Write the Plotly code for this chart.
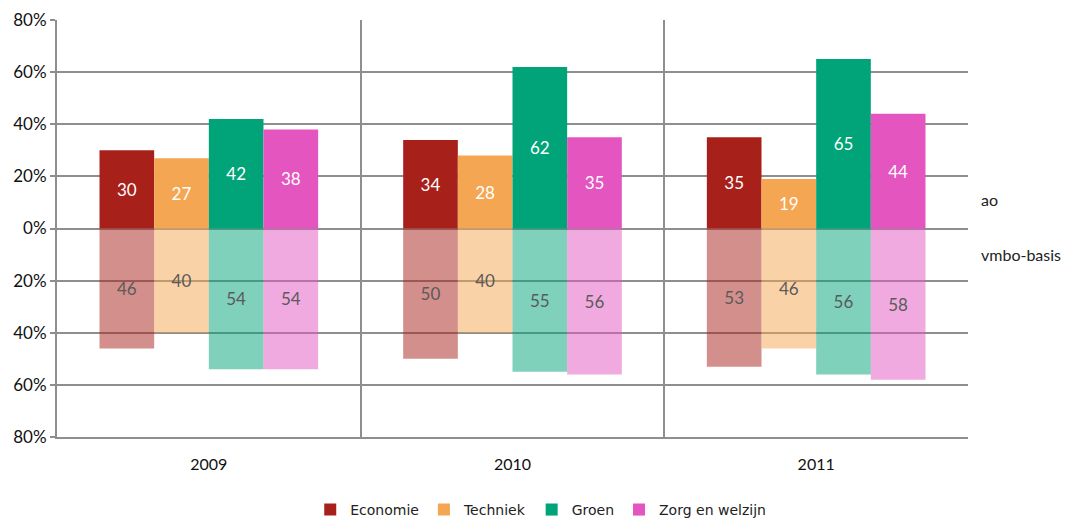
import plotly.graph_objects as go

years = ["2009", "2010", "2011"]
series = ["Economie", "Techniek", "Groen", "Zorg en welzijn"]

# ao (positive side)
ao = {
    "Economie": [30, 34, 35],
    "Techniek": [27, 28, 19],
    "Groen": [42, 62, 65],
    "Zorg en welzijn": [38, 35, 44],
}
# vmbo-basis (drawn downwards)
vmbo = {
    "Economie": [46, 50, 53],
    "Techniek": [40, 40, 46],
    "Groen": [54, 55, 56],
    "Zorg en welzijn": [54, 56, 58],
}

tick_vals = [-80, -60, -40, -20, 0, 20, 40, 60, 80]
tick_text = ["80%", "60%", "40%", "20%", "0%", "20%", "40%", "60%", "80%"]

COLORS = {
    "Economie": (168, 32, 26),
    "Techniek": (245, 166, 82),
    "Groen": (0, 164, 120),
    "Zorg en welzijn": (228, 85, 192),
}
FONT = "Lato"
GRID = "#8e8e8e"

fig = go.Figure()
for name in series:
    r, g, b = COLORS[name]
    fig.add_trace(go.Bar(
        x=years, y=ao[name], name=name, offsetgroup=name, legendgroup=name,
        marker=dict(color=f"rgb({r},{g},{b})", line=dict(width=0)),
        text=ao[name], textposition="inside", insidetextanchor="middle",
        textfont=dict(color="white", size=17, family=FONT),
        textangle=0, hoverinfo="skip",
    ))
for name in series:
    r, g, b = COLORS[name]
    fig.add_trace(go.Bar(
        x=years, y=[-v for v in vmbo[name]], name=name, offsetgroup=name,
        legendgroup=name, showlegend=False,
        marker=dict(color=f"rgba({r},{g},{b},0.5)", line=dict(width=0)),
        text=vmbo[name], textposition="inside", insidetextanchor="middle",
        textfont=dict(color="#5a5a5a", size=17, family=FONT),
        textangle=0, hoverinfo="skip",
    ))

# page body has an 8px default margin, so the figure is shrunk to fit
fig.update_layout(
    width=1069, height=513,
    margin=dict(l=49, r=109, t=12, b=84, autoexpand=False),
    paper_bgcolor="white", plot_bgcolor="white",
    barmode="group", bargap=0.28, bargroupgap=0,
    uniformtext=dict(mode="show", minsize=10),
    font=dict(family=FONT, color="#222222"),
    legend=dict(
        orientation="h", x=0.531, xanchor="center", y=-0.175, yanchor="middle",
        font=dict(family="DejaVu Sans", size=14, color="#222222"),
        itemwidth=30, traceorder="normal",
    ),
    annotations=[
        dict(text="ao", xref="paper", yref="y", x=1.012, y=11, xanchor="left",
             showarrow=False, font=dict(size=16, color="#222222", family=FONT)),
        dict(text="vmbo-basis", xref="paper", yref="y", x=1.012, y=-10, xanchor="left",
             showarrow=False, font=dict(size=16, color="#222222", family=FONT)),
    ],
)
fig.update_yaxes(
    range=[-80, 80], tickvals=tick_vals, ticktext=tick_text, automargin=False,
    showgrid=True, gridcolor=GRID, gridwidth=2,
    zeroline=True, zerolinecolor=GRID, zerolinewidth=2,
    showline=True, linecolor=GRID, linewidth=2,
    ticks="outside", ticklen=5, tickcolor=GRID, tickwidth=2,
    tickfont=dict(size=17, color="#111111", family=FONT),
)
fig.update_xaxes(
    tickson="boundaries", showgrid=True, gridcolor=GRID, gridwidth=2,
    showline=True, linecolor=GRID, linewidth=2, ticks="", automargin=False,
    ticklabelstandoff=12,
    tickfont=dict(size=16, color="#111111", family=FONT),
)

fig.write_html("out.html")
